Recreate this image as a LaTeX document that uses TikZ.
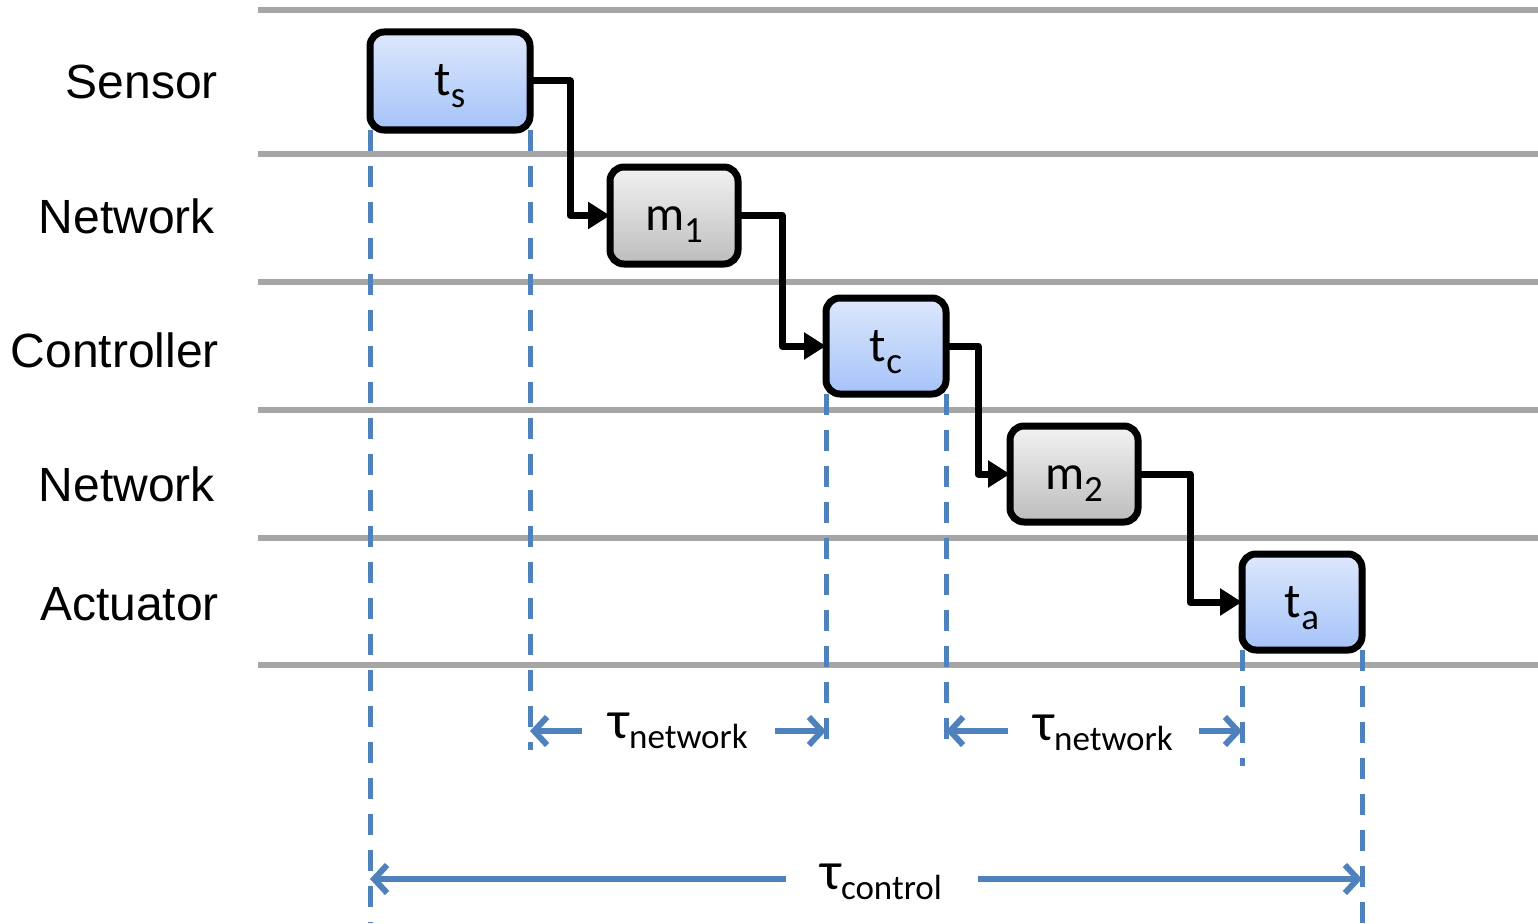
\documentclass[tikz,border=0pt]{standalone}
\usepackage{fontspec}
\setmainfont{Liberation Sans}
\newfontfamily\carlitofont{Carlito}
\usetikzlibrary{arrows.meta}
\definecolor{gline}{HTML}{A6A6A6}
\definecolor{dblue}{HTML}{4F81BD}
\definecolor{btop}{HTML}{DDE8FC}
\definecolor{bbot}{HTML}{A5C3F9}
\definecolor{gtop}{HTML}{F2F2F2}
\definecolor{gbot}{HTML}{BDBDBD}
\newcommand{\boxlab}[2]{\raisebox{-15pt}[0pt][0pt]{\carlitofont\fontsize{49}{49}\selectfont #1\raisebox{-12pt}{\fontsize{37}{37}\selectfont #2}}}
\newcommand{\taulab}[1]{{\carlitofont\fontsize{54}{54}\selectfont τ\raisebox{-10pt}{\fontsize{35}{35}\selectfont #1}}}
\tikzset{
  rowline/.style={draw=gline, line width=6pt},
  rowlab/.style={anchor=east, inner sep=0pt, font=\fontsize{48}{48}\selectfont},
  taskbox/.style={draw=black, line width=7pt, rounded corners=14pt, inner sep=0pt, outer sep=0pt, top color=btop, bottom color=bbot},
  msgbox/.style={taskbox, top color=gtop, bottom color=gbot},
  conn/.style={draw=black, line width=7pt, line join=round, -{Triangle[length=22pt,width=26pt]}},
  guide/.style={draw=dblue, line width=5pt, dash pattern=on 21pt off 15pt},
  span/.style={draw=dblue, line width=6pt, -{Straight Barb[length=13pt,width=28pt,line width=6pt]}},
  taulabel/.style={inner sep=0pt}
}
\begin{document}
\begin{tikzpicture}[x=1pt,y=-1pt]
\useasboundingbox (0,0) rectangle (1538,923);
% row separators
\foreach \yy in {10,154,282,410,538,665} \draw[rowline] (258,\yy) -- (1538,\yy);
% row labels
\node[rowlab] (lsensor) at (218,82) {Sensor};
\node[rowlab] (lnet1) at (215,216) {Network};
\node[rowlab] (lctrl) at (219,350) {Controller};
\node[rowlab] (lnet2) at (215,484) {Network};
\node[rowlab] (lact) at (219,604) {Actuator};
% boxes
\node[taskbox, minimum width=160pt, minimum height=98pt] (ts) at (450,81) {\boxlab{t}{s}};
\node[msgbox, minimum width=128pt, minimum height=97pt] (m1) at (674,215.5) {\boxlab{m}{1}};
\node[taskbox, minimum width=120pt, minimum height=96pt] (tc) at (886,346) {\boxlab{t}{c}};
\node[msgbox, minimum width=128pt, minimum height=96pt] (m2) at (1074,474) {\boxlab{m}{2}};
\node[taskbox, minimum width=120pt, minimum height=96pt] (ta) at (1302,602) {\boxlab{t}{a}};
% guide coordinates
\coordinate (g1) at (370,923);
\coordinate (g2) at (530,750);
\coordinate (g3) at (826,752);
\coordinate (g4) at (946,752);
\coordinate (g5) at (1242,766);
\coordinate (g6) at (1362,923);
\draw[guide] (ts.south west) -- (g1);
\draw[guide] (ts.south east) -- (g2);
\draw[guide] (tc.south west) -- (g3);
\draw[guide] (tc.south east) -- (g4);
\draw[guide] (ta.south west) -- (g5);
\draw[guide] (ta.south east) -- (g6);
% connectors
\draw[conn] (ts.east) -- ++(40,0) |- (m1.west);
\draw[conn] (m1.east) -- ++(44,0) |- (tc.west);
\draw[conn] (tc.east) -- ++(32,0) |- (m2.west);
\draw[conn] (m2.east) -- ++(52,0) |- (ta.west);
% span labels
\node[taulabel] (n1) at (678,731) {\taulab{network}};
\node[taulabel] (n2) at (1103,733) {\taulab{network}};
\node[taulabel] (nc) at (881,882) {\taulab{control}};
\coordinate (a1l) at (530,731);
\coordinate (a1r) at (826,731);
\coordinate (a2l) at (946,731);
\coordinate (a2r) at (1242,731);
\coordinate (acl) at (370,879);
\coordinate (acr) at (1362,879);
\draw[span] (582,731) -- (a1l);
\draw[span] (775,731) -- (a1r);
\draw[span] (1008,731) -- (a2l);
\draw[span] (1199,731) -- (a2r);
\draw[span] (786,879) -- (acl);
\draw[span] (978,879) -- (acr);
\end{tikzpicture}
\end{document}
